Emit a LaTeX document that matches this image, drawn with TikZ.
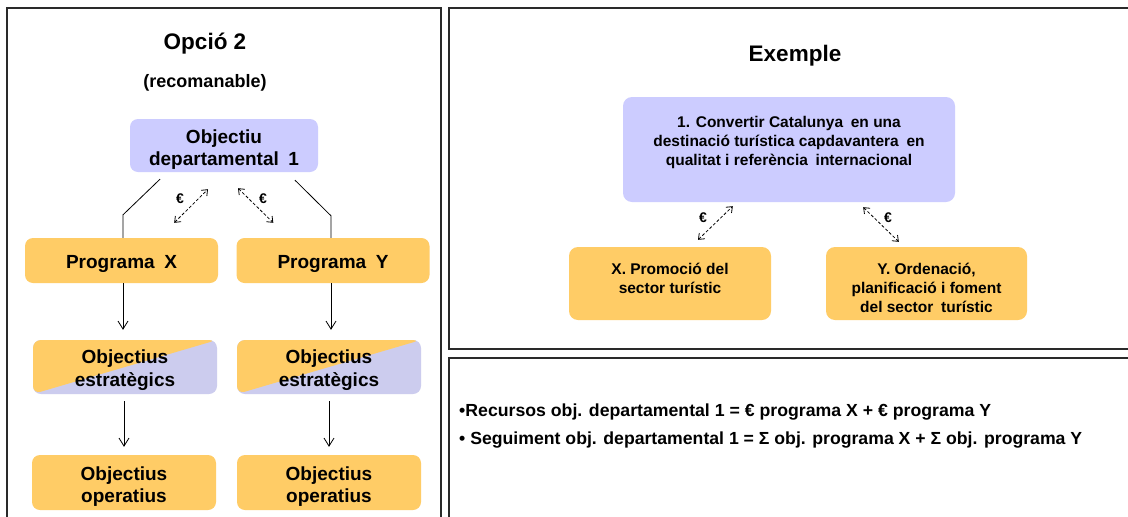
\documentclass[tikz,border=0pt]{standalone}
\usepackage{fontspec}
\setmainfont{Liberation Sans}
\usepackage{graphicx}
\usetikzlibrary{arrows.meta,calc}

\definecolor{lav}{HTML}{CCCCFF}
\definecolor{lavgrey}{HTML}{CCCCEE}
\definecolor{gold}{HTML}{FFCC66}
\definecolor{framegrey}{HTML}{2A2A2A}

% invisible struts that push a box's text down (tall) or up (deep)
\newcommand\tallstrut[1]{\rule{0pt}{#1}}
\newcommand\deepstrut[1]{\rule[-#1]{0pt}{#1}}
% the wider word gap used in the box labels
\newcommand\gap{\hspace{0.5em}}

\tikzset{
  panel/.style={draw=framegrey, line width=1.2pt},
  box/.style={rounded corners=8pt, inner sep=0pt, align=center,
    font=\bfseries\fontsize{19}{22.5}\selectfont},
  deptbox/.style={box, fill=lav},
  progbox/.style={box, fill=gold},
  splitbox/.style={box, fill=lavgrey,
    path picture={\fill[gold] (path picture bounding box.north west) --
      (path picture bounding box.north east) --
      (path picture bounding box.south west) -- cycle;}},
  exbox/.style={rounded corners=9pt, inner sep=0pt, align=center,
    font=\bfseries\fontsize{15.5}{19}\selectfont},
  flow/.style={line width=0.8pt, -{Straight Barb[length=8pt,width=10pt]}},
  branch/.style={line width=0.8pt},
  money/.style={line width=0.8pt, dash pattern=on 3pt off 2pt,
    {Straight Barb[length=5pt,width=8pt]}-{Straight Barb[length=5pt,width=8pt]}},
  euro/.style={inner sep=0pt, font=\bfseries\fontsize{14}{14}\selectfont},
  heading/.style={inner sep=0pt, font=\bfseries\fontsize{22.5}{27}\selectfont},
  sumline/.style={inner sep=0pt, anchor=base west, font=\bfseries\fontsize{17.5}{20}\selectfont},
}

\begin{document}
\begin{tikzpicture}[x=1pt,y=-1pt]
\useasboundingbox (0,0) rectangle (1128,517);
\fill[white] (0,0) rectangle (1128,517);
\clip (0,0) rectangle (1128,517);

% three panels
\draw[panel] (7,8) rectangle (441,540);
\draw[panel] (449,8) rectangle (1150,349);
\draw[panel] (449,358) rectangle (1150,540);

% ---- left panel: option 2 ----
\node[heading] (title) at (205,44) {Opció 2};
\node[inner sep=0pt, font=\bfseries\fontsize{18}{21}\selectfont] (subtitle) at (205,83) {(recomanable)};

\node[deptbox, minimum width=188pt, minimum height=53pt] (dept) at (224,145.5)
  {\tallstrut{22pt}Objectiu\\departamental\gap 1};

\node[progbox, minimum width=193pt, minimum height=45pt] (progX) at (121.5,260.5)
  {\tallstrut{19.5pt}Programa\gap X};
\node[progbox, minimum width=193pt, minimum height=45pt] (progY) at (333,260.5)
  {\tallstrut{19.5pt}Programa\gap Y};

\node[splitbox, minimum width=184pt, minimum height=54pt] (estX) at (125,367)
  {\tallstrut{20pt}Objectius\\estratègics};
\node[splitbox, minimum width=184pt, minimum height=54pt] (estY) at (329,367)
  {\tallstrut{20pt}Objectius\\estratègics};

\node[progbox, minimum width=184pt, minimum height=55pt] (opX) at (124,482.5)
  {\tallstrut{21.5pt}Objectius\\operatius};
\node[progbox, minimum width=184pt, minimum height=55pt] (opY) at (329,482.5)
  {\tallstrut{21.5pt}Objectius\\operatius};

% hierarchy lines
\draw[branch] ($(dept.south)+(-64,7)$) -- ($(progX.north)+(1.5,-23)$) -- ($(progX.north)+(1.5,0)$);
\draw[branch] ($(dept.south)+(71,8)$) -- ($(progY.north)+(-2,-22)$) -- ($(progY.north)+(-2,0)$);

\draw[flow] ($(progX.south)+(1.5,0)$) -- ($(estX.north)+(-2,-10)$);
\draw[flow] ($(progY.south)+(-2,0)$) -- ($(estY.north)+(2,-10)$);
\draw[flow] ($(estX.south)+(-1,7)$) -- ($(opX.north)+(0,-8)$);
\draw[flow] ($(estY.south)+(0,7)$) -- ($(opY.north)+(0,-8)$);

% budget flows
\draw[money] ($(progX.north east)+(-44,-15)$) -- ($(dept.south)+(-16,17)$);
\draw[money] ($(dept.south)+(14,16)$) -- ($(progY.north west)+(37,-15)$);
\node[euro] (eurL) at (180,199) {€};
\node[euro] (eurR) at (263,199) {€};

% ---- right panel: example ----
\node[heading] (extitle) at (795,56) {Exemple};

\node[exbox, fill=lav, minimum width=332pt, minimum height=105pt] (goal) at (789,149.5)
  {1. Convertir Catalunya\gap en una\\destinació turística capdavantera\gap en\\qualitat i referència\gap internacional\deepstrut{18pt}};

\node[exbox, fill=gold, minimum width=202pt, minimum height=73pt] (pX) at (670,283.5)
  {X. Promoció del\\sector turístic\deepstrut{10pt}};
\node[exbox, fill=gold, minimum width=201pt, minimum height=73pt] (pY) at (926.5,283.5)
  {\tallstrut{21pt}Y. Ordenació,\\planificació i foment\\del sector\gap turístic};

\draw[money] ($(pX.north)+(28,-7)$) -- ($(goal.south west)+(110,4)$);
\draw[money] ($(goal.south east)+(-92,5)$) -- ($(pY.north west)+(73,-5)$);
\node[euro] (eurXL) at (703,218) {€};
\node[euro] (eurXR) at (888,218) {€};

% ---- summary ----
\node[sumline] (resources) at (459,416)
  {\resizebox{532pt}{\height}{•Recursos obj. departamental 1 = € programa X + € programa Y}};
\node[sumline] (tracking) at (459,444)
  {\resizebox{623pt}{\height}{• Seguiment obj. departamental 1 = Σ obj. programa X + Σ obj. programa Y}};
\end{tikzpicture}
\end{document}
